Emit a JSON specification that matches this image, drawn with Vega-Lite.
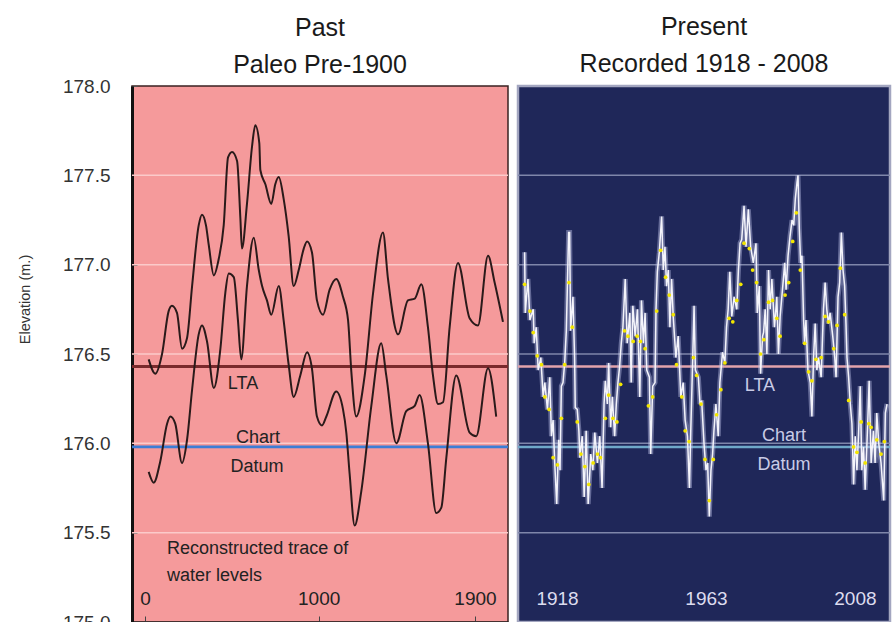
{
  "$schema": "https://vega.github.io/schema/vega-lite/v6.json",
  "background": "white",
  "padding": {"left": 16, "top": 13, "right": 0, "bottom": 0},
  "spacing": 2,
  "config": {"font": "Liberation Sans", "view": {"stroke": null}, "axis": {"labelOverlap": false}},
  "resolve": {"scale": {"x": "independent", "y": "independent", "color": "independent"}},
  "datasets": {
    "grid": [{"g": 175.5}, {"g": 176.0}, {"g": 176.5}, {"g": 177.0}, {"g": 177.5}],
    "levels": [{"lev": 176.43, "name": "LTA"}, {"lev": 175.98, "name": "Chart Datum"}],
    "paleo": [
      {"year": 21, "lev": 176.47, "trace": "upper"}, {"year": 59, "lev": 176.39, "trace": "upper"}, {"year": 98, "lev": 176.50, "trace": "upper"},
      {"year": 136, "lev": 176.74, "trace": "upper"}, {"year": 155, "lev": 176.77, "trace": "upper"}, {"year": 184, "lev": 176.73, "trace": "upper"},
      {"year": 213, "lev": 176.53, "trace": "upper"}, {"year": 242, "lev": 176.59, "trace": "upper"}, {"year": 271, "lev": 176.88, "trace": "upper"},
      {"year": 309, "lev": 177.22, "trace": "upper"}, {"year": 328, "lev": 177.28, "trace": "upper"}, {"year": 351, "lev": 177.22, "trace": "upper"},
      {"year": 367, "lev": 177.11, "trace": "upper"}, {"year": 396, "lev": 176.94, "trace": "upper"}, {"year": 424, "lev": 177.03, "trace": "upper"},
      {"year": 453, "lev": 177.22, "trace": "upper"}, {"year": 478, "lev": 177.60, "trace": "upper"}, {"year": 501, "lev": 177.63, "trace": "upper"},
      {"year": 530, "lev": 177.58, "trace": "upper"}, {"year": 549, "lev": 177.26, "trace": "upper"}, {"year": 558, "lev": 177.09, "trace": "upper"},
      {"year": 587, "lev": 177.34, "trace": "upper"}, {"year": 616, "lev": 177.66, "trace": "upper"}, {"year": 635, "lev": 177.78, "trace": "upper"},
      {"year": 658, "lev": 177.68, "trace": "upper"}, {"year": 664, "lev": 177.53, "trace": "upper"}, {"year": 693, "lev": 177.45, "trace": "upper"},
      {"year": 727, "lev": 177.34, "trace": "upper"}, {"year": 750, "lev": 177.45, "trace": "upper"}, {"year": 770, "lev": 177.49, "trace": "upper"},
      {"year": 798, "lev": 177.37, "trace": "upper"}, {"year": 827, "lev": 177.16, "trace": "upper"}, {"year": 856, "lev": 176.88, "trace": "upper"},
      {"year": 885, "lev": 176.97, "trace": "upper"}, {"year": 914, "lev": 177.09, "trace": "upper"}, {"year": 933, "lev": 177.13, "trace": "upper"},
      {"year": 961, "lev": 177.07, "trace": "upper"}, {"year": 990, "lev": 176.80, "trace": "upper"}, {"year": 1025, "lev": 176.72, "trace": "upper"},
      {"year": 1063, "lev": 176.86, "trace": "upper"}, {"year": 1101, "lev": 176.92, "trace": "upper"}, {"year": 1140, "lev": 176.82, "trace": "upper"},
      {"year": 1169, "lev": 176.69, "trace": "upper"}, {"year": 1188, "lev": 176.40, "trace": "upper"}, {"year": 1216, "lev": 176.15, "trace": "upper"},
      {"year": 1265, "lev": 176.38, "trace": "upper"}, {"year": 1313, "lev": 176.84, "trace": "upper"}, {"year": 1370, "lev": 177.18, "trace": "upper"},
      {"year": 1399, "lev": 176.92, "trace": "upper"}, {"year": 1457, "lev": 176.61, "trace": "upper"}, {"year": 1514, "lev": 176.80, "trace": "upper"},
      {"year": 1553, "lev": 176.81, "trace": "upper"}, {"year": 1591, "lev": 176.89, "trace": "upper"}, {"year": 1629, "lev": 176.65, "trace": "upper"},
      {"year": 1658, "lev": 176.38, "trace": "upper"}, {"year": 1687, "lev": 176.22, "trace": "upper"}, {"year": 1716, "lev": 176.23, "trace": "upper"},
      {"year": 1754, "lev": 176.65, "trace": "upper"}, {"year": 1802, "lev": 177.01, "trace": "upper"}, {"year": 1869, "lev": 176.70, "trace": "upper"},
      {"year": 1917, "lev": 176.66, "trace": "upper"}, {"year": 1975, "lev": 177.05, "trace": "upper"}, {"year": 2013, "lev": 176.90, "trace": "upper"},
      {"year": 2061, "lev": 176.68, "trace": "upper"},
      {"year": 21, "lev": 175.84, "trace": "lower"}, {"year": 50, "lev": 175.78, "trace": "lower"}, {"year": 88, "lev": 175.90, "trace": "lower"},
      {"year": 127, "lev": 176.11, "trace": "lower"}, {"year": 146, "lev": 176.15, "trace": "lower"}, {"year": 174, "lev": 176.11, "trace": "lower"},
      {"year": 213, "lev": 175.89, "trace": "lower"}, {"year": 242, "lev": 176.02, "trace": "lower"}, {"year": 271, "lev": 176.30, "trace": "lower"},
      {"year": 309, "lev": 176.61, "trace": "lower"}, {"year": 328, "lev": 176.66, "trace": "lower"}, {"year": 357, "lev": 176.57, "trace": "lower"},
      {"year": 396, "lev": 176.31, "trace": "lower"}, {"year": 434, "lev": 176.53, "trace": "lower"}, {"year": 462, "lev": 176.84, "trace": "lower"},
      {"year": 482, "lev": 176.95, "trace": "lower"}, {"year": 511, "lev": 176.93, "trace": "lower"}, {"year": 535, "lev": 176.69, "trace": "lower"},
      {"year": 554, "lev": 176.47, "trace": "lower"}, {"year": 587, "lev": 176.88, "trace": "lower"}, {"year": 626, "lev": 177.15, "trace": "lower"},
      {"year": 655, "lev": 176.97, "trace": "lower"}, {"year": 674, "lev": 176.88, "trace": "lower"}, {"year": 702, "lev": 176.80, "trace": "lower"},
      {"year": 727, "lev": 176.72, "trace": "lower"}, {"year": 770, "lev": 176.88, "trace": "lower"}, {"year": 798, "lev": 176.69, "trace": "lower"},
      {"year": 827, "lev": 176.44, "trace": "lower"}, {"year": 856, "lev": 176.26, "trace": "lower"}, {"year": 894, "lev": 176.38, "trace": "lower"},
      {"year": 933, "lev": 176.51, "trace": "lower"}, {"year": 961, "lev": 176.42, "trace": "lower"}, {"year": 990, "lev": 176.15, "trace": "lower"},
      {"year": 1019, "lev": 176.10, "trace": "lower"}, {"year": 1044, "lev": 176.15, "trace": "lower"}, {"year": 1101, "lev": 176.29, "trace": "lower"},
      {"year": 1140, "lev": 176.19, "trace": "lower"}, {"year": 1159, "lev": 176.06, "trace": "lower"}, {"year": 1178, "lev": 175.83, "trace": "lower"},
      {"year": 1207, "lev": 175.54, "trace": "lower"}, {"year": 1245, "lev": 175.73, "trace": "lower"}, {"year": 1303, "lev": 176.21, "trace": "lower"},
      {"year": 1360, "lev": 176.56, "trace": "lower"}, {"year": 1389, "lev": 176.38, "trace": "lower"}, {"year": 1447, "lev": 176.00, "trace": "lower"},
      {"year": 1504, "lev": 176.18, "trace": "lower"}, {"year": 1553, "lev": 176.21, "trace": "lower"}, {"year": 1581, "lev": 176.27, "trace": "lower"},
      {"year": 1629, "lev": 176.00, "trace": "lower"}, {"year": 1677, "lev": 175.61, "trace": "lower"}, {"year": 1706, "lev": 175.64, "trace": "lower"},
      {"year": 1735, "lev": 175.92, "trace": "lower"}, {"year": 1792, "lev": 176.38, "trace": "lower"}, {"year": 1869, "lev": 176.06, "trace": "lower"},
      {"year": 1907, "lev": 176.04, "trace": "lower"}, {"year": 1975, "lev": 176.42, "trace": "lower"}, {"year": 2022, "lev": 176.15, "trace": "lower"}
    ],
    "recorded": [
      {"yr": 1908.2, "v": 177.07}, {"yr": 1908.4, "v": 176.73}, {"yr": 1909.2, "v": 176.92}, {"yr": 1909.8, "v": 176.69}, {"yr": 1910.8, "v": 176.75},
      {"yr": 1911.1, "v": 176.56}, {"yr": 1911.7, "v": 176.65}, {"yr": 1912.3, "v": 176.41}, {"yr": 1913.1, "v": 176.48}, {"yr": 1913.8, "v": 176.26},
      {"yr": 1914.3, "v": 176.34}, {"yr": 1915.1, "v": 176.19}, {"yr": 1915.8, "v": 176.37}, {"yr": 1916.3, "v": 176.04}, {"yr": 1916.8, "v": 176.13},
      {"yr": 1917.3, "v": 175.89}, {"yr": 1917.9, "v": 175.66}, {"yr": 1918.5, "v": 176.02}, {"yr": 1918.9, "v": 175.85}, {"yr": 1919.3, "v": 176.32},
      {"yr": 1919.8, "v": 176.34}, {"yr": 1920.3, "v": 176.45}, {"yr": 1920.8, "v": 176.63}, {"yr": 1921.5, "v": 177.18}, {"yr": 1921.8, "v": 177.18},
      {"yr": 1922.1, "v": 176.63}, {"yr": 1922.8, "v": 176.82}, {"yr": 1923.3, "v": 176.48}, {"yr": 1923.5, "v": 176.20}, {"yr": 1924.1, "v": 176.19},
      {"yr": 1924.6, "v": 176.07}, {"yr": 1924.9, "v": 175.92}, {"yr": 1925.6, "v": 176.04}, {"yr": 1926.2, "v": 175.70}, {"yr": 1926.8, "v": 176.07},
      {"yr": 1927.4, "v": 175.66}, {"yr": 1928.2, "v": 175.94}, {"yr": 1928.8, "v": 175.85}, {"yr": 1929.4, "v": 176.06}, {"yr": 1930.2, "v": 175.89},
      {"yr": 1930.9, "v": 176.04}, {"yr": 1931.6, "v": 175.75}, {"yr": 1932.2, "v": 176.22}, {"yr": 1932.6, "v": 176.35}, {"yr": 1933.2, "v": 176.22},
      {"yr": 1933.6, "v": 176.45}, {"yr": 1934.2, "v": 176.09}, {"yr": 1934.7, "v": 176.26}, {"yr": 1935.4, "v": 176.04}, {"yr": 1935.9, "v": 176.22},
      {"yr": 1936.4, "v": 176.34}, {"yr": 1936.9, "v": 176.43}, {"yr": 1937.4, "v": 176.56}, {"yr": 1937.9, "v": 176.65}, {"yr": 1938.6, "v": 176.92},
      {"yr": 1939.2, "v": 176.56}, {"yr": 1940.0, "v": 176.73}, {"yr": 1940.4, "v": 176.34}, {"yr": 1940.9, "v": 176.77}, {"yr": 1941.6, "v": 176.60},
      {"yr": 1942.3, "v": 176.75}, {"yr": 1943.0, "v": 176.26}, {"yr": 1943.5, "v": 176.80}, {"yr": 1944.1, "v": 176.56}, {"yr": 1944.6, "v": 176.73},
      {"yr": 1945.1, "v": 176.41}, {"yr": 1945.9, "v": 176.37}, {"yr": 1946.3, "v": 175.94}, {"yr": 1946.9, "v": 176.32}, {"yr": 1947.6, "v": 176.34},
      {"yr": 1947.9, "v": 176.75}, {"yr": 1948.3, "v": 176.96}, {"yr": 1948.9, "v": 177.07}, {"yr": 1949.6, "v": 177.27}, {"yr": 1950.1, "v": 176.97},
      {"yr": 1950.6, "v": 177.10}, {"yr": 1951.1, "v": 176.88}, {"yr": 1951.6, "v": 176.97}, {"yr": 1952.1, "v": 176.65}, {"yr": 1952.6, "v": 176.92},
      {"yr": 1953.1, "v": 176.71}, {"yr": 1953.9, "v": 176.48}, {"yr": 1954.6, "v": 176.60}, {"yr": 1955.4, "v": 176.26}, {"yr": 1956.1, "v": 176.34},
      {"yr": 1956.7, "v": 176.13}, {"yr": 1957.4, "v": 176.04}, {"yr": 1958.0, "v": 175.75}, {"yr": 1958.4, "v": 176.07}, {"yr": 1959.0, "v": 176.48},
      {"yr": 1959.4, "v": 176.77}, {"yr": 1959.8, "v": 176.41}, {"yr": 1960.7, "v": 176.37}, {"yr": 1961.2, "v": 176.22}, {"yr": 1961.7, "v": 176.24},
      {"yr": 1962.4, "v": 176.00}, {"yr": 1963.0, "v": 175.85}, {"yr": 1963.5, "v": 175.89}, {"yr": 1964.0, "v": 175.59}, {"yr": 1964.5, "v": 175.85},
      {"yr": 1965.0, "v": 175.94}, {"yr": 1965.4, "v": 176.07}, {"yr": 1966.0, "v": 176.22}, {"yr": 1966.7, "v": 176.04}, {"yr": 1967.2, "v": 176.34},
      {"yr": 1968.0, "v": 176.51}, {"yr": 1968.7, "v": 176.45}, {"yr": 1969.2, "v": 176.65}, {"yr": 1969.7, "v": 176.75}, {"yr": 1970.2, "v": 176.96},
      {"yr": 1970.8, "v": 176.71}, {"yr": 1971.5, "v": 176.82}, {"yr": 1972.3, "v": 176.75}, {"yr": 1972.8, "v": 176.97}, {"yr": 1973.3, "v": 177.12},
      {"yr": 1973.8, "v": 177.14}, {"yr": 1974.5, "v": 177.33}, {"yr": 1975.1, "v": 177.10}, {"yr": 1975.8, "v": 177.31}, {"yr": 1976.5, "v": 177.10},
      {"yr": 1977.3, "v": 177.01}, {"yr": 1978.1, "v": 177.12}, {"yr": 1978.5, "v": 176.73}, {"yr": 1979.1, "v": 176.88}, {"yr": 1979.5, "v": 176.39},
      {"yr": 1980.1, "v": 176.60}, {"yr": 1980.4, "v": 176.62}, {"yr": 1980.9, "v": 176.75}, {"yr": 1981.4, "v": 176.50}, {"yr": 1981.9, "v": 176.97},
      {"yr": 1982.4, "v": 176.75}, {"yr": 1982.9, "v": 176.92}, {"yr": 1983.7, "v": 176.65}, {"yr": 1984.4, "v": 176.82}, {"yr": 1984.9, "v": 176.50},
      {"yr": 1985.4, "v": 176.71}, {"yr": 1986.2, "v": 176.88}, {"yr": 1986.8, "v": 177.01}, {"yr": 1987.2, "v": 176.86}, {"yr": 1987.8, "v": 177.05},
      {"yr": 1988.4, "v": 177.16}, {"yr": 1989.0, "v": 177.25}, {"yr": 1989.5, "v": 177.22}, {"yr": 1990.0, "v": 177.37}, {"yr": 1990.5, "v": 177.46},
      {"yr": 1990.8, "v": 177.50}, {"yr": 1991.2, "v": 177.20}, {"yr": 1991.6, "v": 177.01}, {"yr": 1992.0, "v": 177.05}, {"yr": 1992.5, "v": 176.69},
      {"yr": 1992.8, "v": 176.56}, {"yr": 1993.2, "v": 176.69}, {"yr": 1993.8, "v": 176.41}, {"yr": 1994.5, "v": 176.34}, {"yr": 1995.0, "v": 176.15},
      {"yr": 1995.5, "v": 176.48}, {"yr": 1996.0, "v": 176.67}, {"yr": 1996.5, "v": 176.41}, {"yr": 1997.0, "v": 176.48}, {"yr": 1997.8, "v": 176.37},
      {"yr": 1998.5, "v": 176.75}, {"yr": 1999.0, "v": 176.90}, {"yr": 1999.5, "v": 176.75}, {"yr": 2000.0, "v": 176.67}, {"yr": 2000.5, "v": 176.73},
      {"yr": 2001.3, "v": 176.60}, {"yr": 2001.9, "v": 176.48}, {"yr": 2002.3, "v": 176.37}, {"yr": 2002.9, "v": 176.82}, {"yr": 2003.4, "v": 176.90},
      {"yr": 2003.9, "v": 177.18}, {"yr": 2004.4, "v": 176.97}, {"yr": 2004.9, "v": 176.88}, {"yr": 2005.3, "v": 176.67}, {"yr": 2005.6, "v": 176.48},
      {"yr": 2006.1, "v": 176.37}, {"yr": 2006.6, "v": 176.22}, {"yr": 2007.1, "v": 176.11}, {"yr": 2007.6, "v": 175.77}, {"yr": 2008.1, "v": 176.04},
      {"yr": 2008.6, "v": 175.85}, {"yr": 2009.1, "v": 176.05}, {"yr": 2009.6, "v": 176.32}, {"yr": 2010.1, "v": 175.85}, {"yr": 2010.6, "v": 175.98},
      {"yr": 2011.1, "v": 175.74}, {"yr": 2011.9, "v": 176.13}, {"yr": 2012.3, "v": 176.35}, {"yr": 2012.9, "v": 175.89}, {"yr": 2013.6, "v": 176.07},
      {"yr": 2014.1, "v": 175.89}, {"yr": 2014.6, "v": 176.17}, {"yr": 2015.2, "v": 176.00}, {"yr": 2015.9, "v": 175.89}, {"yr": 2016.7, "v": 175.68},
      {"yr": 2017.2, "v": 176.17}, {"yr": 2017.7, "v": 176.22}
    ],
    "dots": [
      {"yr": 1908.2, "v": 176.89}, {"yr": 1909.8, "v": 176.74}, {"yr": 1910.8, "v": 176.62}, {"yr": 1912.0, "v": 176.49}, {"yr": 1913.3, "v": 176.44},
      {"yr": 1914.3, "v": 176.26}, {"yr": 1915.6, "v": 176.19}, {"yr": 1916.8, "v": 175.92}, {"yr": 1918.1, "v": 175.88}, {"yr": 1919.3, "v": 176.14},
      {"yr": 1920.3, "v": 176.44}, {"yr": 1921.6, "v": 176.90}, {"yr": 1922.6, "v": 176.65}, {"yr": 1924.1, "v": 176.12}, {"yr": 1925.2, "v": 175.94},
      {"yr": 1926.4, "v": 175.87}, {"yr": 1927.6, "v": 175.77}, {"yr": 1928.9, "v": 175.89}, {"yr": 1930.2, "v": 175.94}, {"yr": 1931.1, "v": 175.92},
      {"yr": 1932.6, "v": 176.14}, {"yr": 1933.6, "v": 176.27}, {"yr": 1934.9, "v": 176.14}, {"yr": 1936.1, "v": 176.12}, {"yr": 1937.2, "v": 176.33},
      {"yr": 1938.4, "v": 176.63}, {"yr": 1939.4, "v": 176.60}, {"yr": 1941.0, "v": 176.57}, {"yr": 1942.2, "v": 176.60}, {"yr": 1943.2, "v": 176.57},
      {"yr": 1944.6, "v": 176.53}, {"yr": 1945.6, "v": 176.21}, {"yr": 1946.9, "v": 176.26}, {"yr": 1948.1, "v": 176.74}, {"yr": 1949.3, "v": 177.08},
      {"yr": 1950.8, "v": 176.93}, {"yr": 1951.9, "v": 176.83}, {"yr": 1953.1, "v": 176.72}, {"yr": 1954.1, "v": 176.44}, {"yr": 1955.7, "v": 176.26},
      {"yr": 1956.7, "v": 176.07}, {"yr": 1957.9, "v": 176.01}, {"yr": 1959.2, "v": 176.48}, {"yr": 1960.2, "v": 176.38}, {"yr": 1961.5, "v": 176.22},
      {"yr": 1962.7, "v": 175.91}, {"yr": 1964.0, "v": 175.68}, {"yr": 1965.2, "v": 175.91}, {"yr": 1966.2, "v": 176.16}, {"yr": 1967.5, "v": 176.30},
      {"yr": 1968.7, "v": 176.45}, {"yr": 1970.0, "v": 176.70}, {"yr": 1971.1, "v": 176.68}, {"yr": 1972.3, "v": 176.80}, {"yr": 1973.5, "v": 176.89},
      {"yr": 1974.5, "v": 177.12}, {"yr": 1976.1, "v": 177.09}, {"yr": 1977.1, "v": 176.97}, {"yr": 1978.3, "v": 176.90}, {"yr": 1979.5, "v": 176.50},
      {"yr": 1980.5, "v": 176.58}, {"yr": 1981.9, "v": 176.79}, {"yr": 1983.1, "v": 176.80}, {"yr": 1984.4, "v": 176.70}, {"yr": 1985.4, "v": 176.60},
      {"yr": 1986.9, "v": 176.83}, {"yr": 1988.0, "v": 176.90}, {"yr": 1989.2, "v": 177.13}, {"yr": 1990.3, "v": 177.29}, {"yr": 1991.5, "v": 176.97},
      {"yr": 1992.8, "v": 176.56}, {"yr": 1994.0, "v": 176.40}, {"yr": 1995.0, "v": 176.35}, {"yr": 1996.2, "v": 176.47}, {"yr": 1997.8, "v": 176.48},
      {"yr": 1999.0, "v": 176.71}, {"yr": 2000.0, "v": 176.68}, {"yr": 2001.6, "v": 176.53}, {"yr": 2002.6, "v": 176.66}, {"yr": 2003.6, "v": 176.98},
      {"yr": 2004.9, "v": 176.72}, {"yr": 2006.1, "v": 176.24}, {"yr": 2007.6, "v": 175.98}, {"yr": 2008.6, "v": 175.95}, {"yr": 2009.9, "v": 176.12},
      {"yr": 2011.1, "v": 175.89}, {"yr": 2012.2, "v": 176.11}, {"yr": 2012.9, "v": 176.09}, {"yr": 2014.6, "v": 176.02}, {"yr": 2015.9, "v": 175.94},
      {"yr": 2016.9, "v": 176.01}
    ],
    "notesL": [{"x": 564, "y": 176.33, "t": "LTA"}, {"x": 651, "y": 176.03, "t": "Chart"}, {"x": 645, "y": 175.87, "t": "Datum"}],
    "captionL": [{"x": 127, "y": 175.41, "t": "Reconstructed trace of"}, {"x": 127, "y": 175.26, "t": "water levels"}],
    "notesR": [{"x": 1979.3, "y": 176.32, "t": "LTA"}, {"x": 1986.6, "y": 176.04, "t": "Chart"}, {"x": 1986.6, "y": 175.88, "t": "Datum"}]
  },
  "hconcat": [
    {
      "width": 376,
      "height": 536,
      "view": {"fill": "#f59a9b", "stroke": "#3a2222", "strokeWidth": 1.5},
      "title": {"text": ["Past", "Paleo Pre-1900"], "font": "Liberation Sans", "fontSize": 25, "fontWeight": "normal", "lineHeight": 37, "color": "#1a1a1a", "offset": -1},
      "layer": [
        {
          "data": {"name": "grid"},
          "mark": {"type": "rule", "color": "#fbcaca", "strokeWidth": 1.5},
          "encoding": {
            "y": {"field": "g", "type": "quantitative", "scale": {"domain": [175, 178], "nice": false, "zero": false},
              "axis": {
                "title": "Elevation (m.)", "titleFont": "Liberation Sans", "titleFontSize": 14.5, "titleFontWeight": "normal", "titleColor": "#333",
                "titleX": -107, "titleY": 213, "titleAngle": -90, "titleAlign": "center", "titleBaseline": "middle",
                "values": [175, 175.5, 176, 176.5, 177, 177.5, 178], "format": ".1f",
                "labelOverlap": false,
                "labelFontSize": 19, "labelColor": "#333", "labelPadding": 27, "labelFlush": false,
                "ticks": true, "tickSize": -5, "tickColor": "#555", "tickWidth": 1,
                "domain": true, "domainColor": "#111", "domainWidth": 3, "grid": false
              }
            }
          }
        },
        {
          "data": {"name": "levels"},
          "mark": {"type": "rule", "strokeWidth": 2.8},
          "encoding": {
            "y": {"field": "lev", "type": "quantitative", "scale": {"domain": [175, 178], "nice": false, "zero": false}},
            "color": {"field": "name", "type": "nominal", "scale": {"domain": ["LTA", "Chart Datum"], "range": ["#7a2a2c", "#3b7dd6"]}, "legend": null}
          }
        },
        {
          "data": {"name": "paleo"},
          "mark": {"type": "line", "interpolate": "monotone", "color": "#2a1a1a", "strokeWidth": 2},
          "encoding": {
            "x": {"field": "year", "type": "quantitative", "scale": {"domain": [-75, 2090], "nice": false, "zero": false},
              "axis": {
                "title": null, "values": [0, 1000, 1900], "format": "d",
                "labelOverlap": false,
                "labelFontSize": 19, "labelColor": "#222", "labelPadding": -18, "labelBaseline": "middle", "labelFlush": false,
                "ticks": true, "tickSize": -6, "tickColor": "#444", "tickWidth": 1,
                "domain": true, "domainColor": "#222", "domainWidth": 2, "grid": false
              }
            },
            "y": {"field": "lev", "type": "quantitative", "scale": {"domain": [175, 178], "nice": false, "zero": false}},
            "detail": {"field": "trace", "type": "nominal"}
          }
        },
        {
          "data": {"name": "notesL"},
          "mark": {"type": "text", "fontSize": 18, "color": "#222", "align": "center", "baseline": "middle"},
          "encoding": {
            "x": {"field": "x", "type": "quantitative", "scale": {"domain": [-75, 2090], "nice": false, "zero": false}},
            "y": {"field": "y", "type": "quantitative", "scale": {"domain": [175, 178], "nice": false, "zero": false}},
            "text": {"field": "t"}
          }
        },
        {
          "data": {"name": "captionL"},
          "mark": {"type": "text", "fontSize": 18, "color": "#222", "align": "left", "baseline": "middle"},
          "encoding": {
            "x": {"field": "x", "type": "quantitative", "scale": {"domain": [-75, 2090], "nice": false, "zero": false}},
            "y": {"field": "y", "type": "quantitative", "scale": {"domain": [175, 178], "nice": false, "zero": false}},
            "text": {"field": "t"}
          }
        }
      ]
    },
    {
      "width": 372,
      "height": 536,
      "view": {"fill": "#1f2759", "stroke": "#a3a6c0", "strokeWidth": 2.5},
      "title": {"text": ["Present", "Recorded 1918 - 2008"], "font": "Liberation Sans", "fontSize": 25, "fontWeight": "normal", "lineHeight": 37, "color": "#1a1a1a", "offset": 9},
      "layer": [
        {
          "data": {"name": "grid"},
          "mark": {"type": "rule", "color": "#7f86aa", "strokeWidth": 1.5},
          "encoding": {
            "y": {"field": "g", "type": "quantitative", "scale": {"domain": [175, 178], "nice": false, "zero": false}, "axis": null}
          }
        },
        {
          "data": {"name": "levels"},
          "mark": {"type": "rule", "strokeWidth": 2.5},
          "encoding": {
            "y": {"field": "lev", "type": "quantitative", "scale": {"domain": [175, 178], "nice": false, "zero": false}, "axis": null},
            "color": {"field": "name", "type": "nominal", "scale": {"domain": ["LTA", "Chart Datum"], "range": ["#e3a3ab", "#6fa9c9"]}, "legend": null}
          }
        },
        {
          "data": {"name": "recorded"},
          "mark": {"type": "line", "color": "#b9bde3", "strokeWidth": 5, "opacity": 0.45},
          "encoding": {
            "x": {"field": "yr", "type": "quantitative", "scale": {"domain": [1906.2, 2018.6], "nice": false, "zero": false},
              "axis": {
                "title": null, "values": [1918, 1963, 2008], "format": "d",
                "labelOverlap": false,
                "labelFontSize": 19, "labelColor": "#dcdcef", "labelPadding": -24, "labelBaseline": "middle", "labelFlush": false,
                "ticks": false, "domain": false, "grid": false
              }
            },
            "y": {"field": "v", "type": "quantitative", "scale": {"domain": [175, 178], "nice": false, "zero": false}, "axis": null}
          }
        },
        {
          "data": {"name": "recorded"},
          "mark": {"type": "line", "color": "#f4f4fb", "strokeWidth": 1.5},
          "encoding": {
            "x": {"field": "yr", "type": "quantitative", "scale": {"domain": [1906.2, 2018.6], "nice": false, "zero": false}},
            "y": {"field": "v", "type": "quantitative", "scale": {"domain": [175, 178], "nice": false, "zero": false}, "axis": null}
          }
        },
        {
          "data": {"name": "dots"},
          "mark": {"type": "circle", "color": "#f3e600", "size": 14, "opacity": 1},
          "encoding": {
            "x": {"field": "yr", "type": "quantitative", "scale": {"domain": [1906.2, 2018.6], "nice": false, "zero": false}},
            "y": {"field": "v", "type": "quantitative", "scale": {"domain": [175, 178], "nice": false, "zero": false}, "axis": null}
          }
        },
        {
          "data": {"name": "notesR"},
          "mark": {"type": "text", "fontSize": 18, "color": "#c9cbe6", "align": "center", "baseline": "middle"},
          "encoding": {
            "x": {"field": "x", "type": "quantitative", "scale": {"domain": [1906.2, 2018.6], "nice": false, "zero": false}},
            "y": {"field": "y", "type": "quantitative", "scale": {"domain": [175, 178], "nice": false, "zero": false}, "axis": null},
            "text": {"field": "t"}
          }
        }
      ]
    }
  ]
}
